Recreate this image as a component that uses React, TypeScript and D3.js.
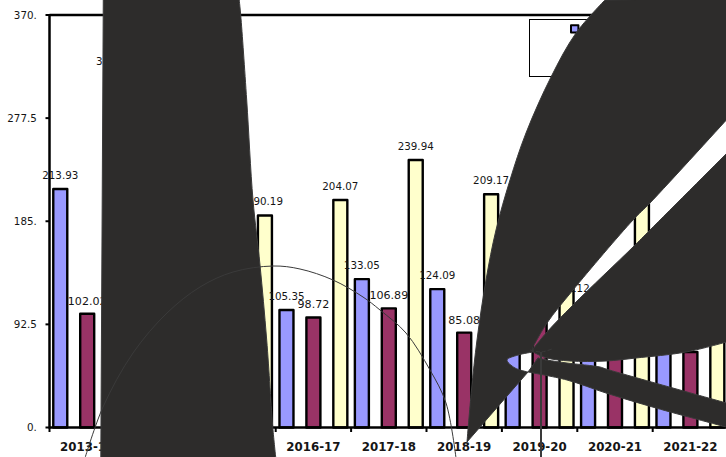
import React from "react";
import * as d3 from "d3";

type Pt = [number, number];

const categories = ["2013-14", "2014-15", "2015-16", "2016-17", "2017-18", "2018-19", "2019-20", "2020-21", "2021-22"];
const seriesKeys = ["first", "second", "third"];
const firstValues = [213.93, 150.4, 140.2, 105.35, 133.05, 124.09, 100.6, 112.14, 102.3];
const secondValues = [102.02, 118.3, 110.6, 98.72, 106.89, 85.08, 105.2, 95.4, 67.72];
const thirdValues = [316.18, 280.5, 190.19, 204.07, 239.94, 209.17, 215.3, 201.42, 160.5];
const seriesValues = [firstValues, secondValues, thirdValues];
const seriesFills = ["#9999ff", "#993366", "#ffffcc"];
const labelSizes = [10.3, 11.1, 10.3];
const yTicks = [0, 92.5, 185, 277.5, 370];
const yTickLabels = ["0.", "92.5", "185.", "277.5", "370."];

// Freehand overlay outlines, each a list of smooth edges joined at sharp corners.
const slabLeft: Pt[] = [[103.3, -2], [100.8, 459]];
const slabRight: Pt[] = [[275.9, 459], [273, 430], [266.7, 340], [260, 265], [253, 200], [246.7, 100], [240.7, 15], [239, -2]];

const blobLeft: Pt[] = [[467, 442], [471.5, 390], [477, 340], [486, 280], [496, 230], [510, 180], [526, 133], [551, 77], [576, 33], [605, 0]];
const blobCorner: Pt[] = [[605, 0], [730, -2]];
const blobEdgeRight: Pt[] = [[730, -2], [730, 116]];
const stripUpper: Pt[] = [[730, 116], [650, 203], [633, 220], [573, 290], [547, 323], [533, 347]];
const gapUpperLeft: Pt[] = [[533, 352], [518, 355], [507, 360], [515, 368], [528, 372]];
const blobLower: Pt[] = [[528, 372], [467, 442]];

const wedgeUpper: Pt[] = [[533, 349], [547, 332], [573, 305], [633, 247], [650, 230], [730, 150]];
const wedgeRight: Pt[] = [[730, 150], [730, 341]];
const wedgeLower: Pt[] = [[730, 341], [686, 352], [636, 358], [606, 361], [570, 361], [547, 358], [533, 352]];

const bandTop: Pt[] = [[538, 358], [547, 360], [567, 363], [600, 367], [606, 369], [730, 404]];
const bandRight: Pt[] = [[730, 404], [730, 428]];
const bandBottom: Pt[] = [[730, 428], [656, 408], [606, 393], [567, 380], [528, 372]];
const bandLeft: Pt[] = [[528, 372], [538, 358]];

const arcPoints: Pt[] = [[85, 458], [103, 407], [133, 353], [167, 313], [200, 287], [233, 272], [273, 266], [300, 269], [333, 280], [363, 297], [380, 310], [406, 333], [430, 370], [446, 403], [456, 458]];
const stemPoints: Pt[] = [[541, 352], [541, 458]];
const knotPoints: Pt[][] = [
  [[530, 350], [541, 352], [552, 349]],
  [[536, 361], [541, 355], [546, 361]],
];

const smooth = d3.line<Pt>().curve(d3.curveCatmullRom.alpha(0.5));

// Joins smooth edges into one closed outline.
function outline(edges: Pt[][]): string {
  const parts = edges.map((edge, i) => {
    const d = smooth(edge) ?? "";
    return i === 0 ? d : "L" + d.slice(1);
  });
  return parts.join("") + "Z";
}

const darkShapes = [
  outline([slabLeft, slabRight]),
  outline([blobLeft, blobCorner, blobEdgeRight, stripUpper, gapUpperLeft, blobLower]),
  outline([wedgeUpper, wedgeRight, wedgeLower]),
  outline([bandTop, bandRight, bandBottom, bandLeft]),
];

const WIDTH = 726;
const HEIGHT = 457;
const plot = { left: 49.5, top: 15, bottom: 427.5 };
const groupStep = 75.4;
const textFont = "'DejaVu Sans', Verdana, sans-serif";
const textColor = "#151515";
const darkFill = "#2d2c2b";
const darkEdge = "#3a3a3a";

export default function App() {
  const x0 = d3
    .scaleBand<string>()
    .domain(categories)
    .range([plot.left, plot.left + groupStep * categories.length]);
  const x1 = d3
    .scaleBand<string>()
    .domain(seriesKeys)
    .range([0, groupStep])
    .paddingInner(0.48)
    .paddingOuter(0.14);
  const y = d3.scaleLinear().domain([0, 370]).range([plot.bottom, plot.top]);
  const axisEnd = plot.left + groupStep * categories.length;

  return (
    <svg
      width={WIDTH}
      height={HEIGHT}
      viewBox={`0 0 ${WIDTH} ${HEIGHT}`}
      style={{ position: "absolute", left: 0, top: 0, background: "#fff", display: "block" }}
    >
      {/* Bars */}
      {seriesKeys.map((key, s) =>
        categories.map((cat, c) => {
          const v = seriesValues[s][c];
          return (
            <rect
              key={`${key}-${cat}`}
              x={(x0(cat) ?? 0) + (x1(key) ?? 0)}
              y={y(v)}
              width={x1.bandwidth()}
              height={plot.bottom - y(v)}
              fill={seriesFills[s]}
              stroke="#000"
              strokeWidth={2.4}
              strokeLinejoin="round"
            />
          );
        })
      )}

      {/* Value labels */}
      {seriesKeys.map((key, s) =>
        categories.map((cat, c) => {
          const v = seriesValues[s][c];
          return (
            <text
              key={`${key}-${cat}-label`}
              x={(x0(cat) ?? 0) + (x1(key) ?? 0) + x1.bandwidth() / 2}
              y={y(v) - (s === 1 ? 9 : 10)}
              textAnchor="middle"
              fontFamily={textFont}
              fontSize={labelSizes[s]}
              fill={textColor}
            >
              {v.toFixed(2)}
            </text>
          );
        })
      )}

      {/* Plot frame and axes */}
      <line x1={plot.left} x2={axisEnd} y1={plot.top} y2={plot.top} stroke="#000" strokeWidth={2.5} />
      <line x1={plot.left} x2={plot.left} y1={plot.top - 1} y2={plot.bottom + 1} stroke="#000" strokeWidth={2.5} />
      <line x1={plot.left} x2={axisEnd} y1={plot.bottom} y2={plot.bottom} stroke="#000" strokeWidth={2.5} />
      {yTicks.map((t, i) => (
        <g key={t}>
          <line x1={45.5} x2={plot.left} y1={y(t)} y2={y(t)} stroke="#000" strokeWidth={2} />
          <text
            x={36.8}
            y={y(t) + 3.7}
            textAnchor="end"
            fontFamily={textFont}
            fontSize={10.3}
            fill={textColor}
          >
            {yTickLabels[i]}
          </text>
        </g>
      ))}
      {categories.map((cat) => (
        <g key={cat}>
          <line
            x1={x0(cat) ?? 0}
            x2={x0(cat) ?? 0}
            y1={plot.bottom}
            y2={plot.bottom + 4.5}
            stroke="#000"
            strokeWidth={2}
          />
          <text
            x={(x0(cat) ?? 0) + groupStep / 2}
            y={451}
            textAnchor="middle"
            fontFamily={textFont}
            fontWeight="bold"
            fontSize={11.8}
            fill={textColor}
          >
            {cat}
          </text>
        </g>
      ))}

      {/* Legend box and markers */}
      <rect x={529.5} y={19.5} width={190} height={57} fill="#fff" stroke="#000" strokeWidth={1} />
      {seriesFills.map((fill, i) => (
        <rect
          key={fill}
          x={571}
          y={25.2 + i * 19}
          width={7.4}
          height={7.4}
          fill={fill}
          stroke="#000"
          strokeWidth={2}
          strokeLinejoin="round"
        />
      ))}

      {/* Dark overlay shapes */}
      {darkShapes.map((d, i) => (
        <path key={i} d={d} fill={darkFill} stroke={darkEdge} strokeWidth={1} strokeLinejoin="round" />
      ))}

      {/* Thin arc and stem over the shapes */}
      <path d={smooth(arcPoints) ?? ""} fill="none" stroke={darkEdge} strokeWidth={1} />
      <path d={smooth(stemPoints) ?? ""} fill="none" stroke={darkEdge} strokeWidth={2} />
      {knotPoints.map((p, i) => (
        <path key={i} d={smooth(p) ?? ""} fill="none" stroke={darkEdge} strokeWidth={1} strokeDasharray="4 2" />
      ))}
    </svg>
  );
}
